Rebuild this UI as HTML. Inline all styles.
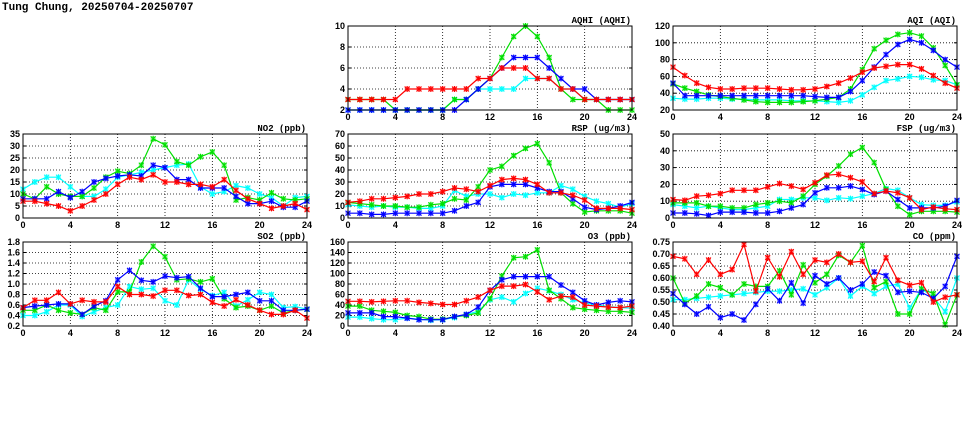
<!DOCTYPE html>
<html><head><meta charset="utf-8"><style>
html,body{margin:0;padding:0;background:#fff;}
svg{display:block;font-family:"Liberation Sans",sans-serif;}
</style></head><body>
<svg id="chart" width="975" height="447" viewBox="0 0 975 447">
<text x="2" y="10" font-size="11" font-weight="bold" font-family="Liberation Mono, monospace">Tung Chung, 20250704-20250707</text>
</svg>
<script>
const hours = [0,1,2,3,4,5,6,7,8,9,10,11,12,13,14,15,16,17,18,19,20,21,22,23,24];
const xTicks = [0,4,8,12,16,20,24];
const seriesColors = ["#00ffff","#00e000","#0000ff","#ff0000"];
const seriesNames = ["cyan","green","blue","red"];

const aqhiGreen=[3,3,3,3,2,2,2,2,2,3,3,4,5,7,9,10,9,7,4,3,3,3,2,2,2];
const aqhiBlue=[2,2,2,2,2,2,2,2,2,2,3,4,5,6,7,7,7,6,5,4,4,3,3,3,3];
const aqhiCyan=[2,2,2,2,2,2,2,2,2,3,3,4,4,4,4,5,5,5,4,4,3,3,3,3,3];
const aqhiRed=[3,3,3,3,3,4,4,4,4,4,4,5,5,6,6,6,5,5,4,4,3,3,3,3,3];
const aqhiTicks=[2,4,6,8,10];

const aqiGreen=[51,46,42,38,36,34,32,30,29,29,29,30,31,33,35,45,68,93,103,110,112,108,94,73,50];
const aqiBlue=[52,37,37,37,37,37,37,37,37,37,37,37,36,35,35,42,55,71,86,98,104,100,91,80,71];
const aqiCyan=[34,33,33,34,34,33,33,32,32,32,31,31,31,30,29,31,38,47,55,57,60,59,56,55,50];
const aqiRed=[71,61,52,47,45,45,46,46,46,45,44,44,45,48,52,58,65,70,72,74,74,69,61,52,46];
const aqiTicks=[20,40,60,80,100,120];

const no2Green=[10,8,13,10,9,9,12.5,17,19.5,18.5,22,33,30.5,23.5,22,25.5,27.5,22,7.5,8.5,7.5,10.5,8,7.5,8];
const no2Blue=[8,8,8,11,8.5,11,15,16.5,17.5,18,17.5,22,21,16,16,12.5,12.5,12.5,9,6,6,7,4.5,4.5,7];
const no2Cyan=[12,15,17,17,13,9,9,12,17,18,19,20,21,22,22.5,13,10,11,13.5,12.5,10,8.5,5,8.5,9];
const no2Red=[7,7,6,5,3,5,7.5,10,14,17,16,18,15,15,14,14,13,16,11.5,8,6,4,5,6,3.5];
const no2Ticks=[0,5,10,15,20,25,30,35];

const rspGreen=[13,12,11,10,10,9,9,11,12,16,15,26,40,43,52,58,62,46,21,12,5,6,6,6,4];
const rspBlue=[4,4,3,3,4,4,4,4,4,6,10,13,26,28,28,28,25,22,22,16,9,7,8,10,13];
const rspCyan=[11,10,9,10,9,9,8,8,10,23,18,20,20,17,20,19,21,21,27,24,18,14,12,9,12];
const rspRed=[13,14,16,16,17,18,20,20,22,25,24,22,27,32,33,32,28,21,21,19,15,8,8,8,7];
const rspTicks=[0,10,20,30,40,50,60,70];

const fspGreen=[9,9,9,7,7,6,6,8,9,10,9,13,20,25,31,38,42,33,17,7,2,4,4,4,3.5];
const fspBlue=[3,3,2.5,1.5,3.5,3.5,3.5,3,3,4,6,8,15,18,18,19,17,14,16,11,6,6,6,7,10.5];
const fspCyan=[8,7,6,7,6,5,5,6,7,11,11,12,12,10.5,12,11.5,13,14.5,17.5,16.5,12,8,7.5,7.5,9.5];
const fspRed=[11,10.5,13,13.5,14.5,16.5,16.5,16.5,18.5,20.5,19,17,21,25.5,26,24,21.5,14.5,16,15,12,5,6.5,5.5,5];
const fspTicks=[0,10,20,30,40,50];

const so2Green=[0.5,0.5,0.6,0.5,0.45,0.42,0.55,0.5,0.85,0.85,1.42,1.72,1.52,1.08,1.1,1.04,1.1,0.72,0.55,0.58,0.5,0.58,0.45,0.5,0.52];
const so2Blue=[0.55,0.58,0.6,0.62,0.62,0.42,0.58,0.68,1.08,1.26,1.07,1.04,1.15,1.12,1.14,0.92,0.76,0.76,0.8,0.84,0.68,0.68,0.5,0.5,0.52];
const so2Cyan=[0.4,0.4,0.47,0.6,0.6,0.38,0.47,0.55,0.6,0.95,0.9,0.92,0.68,0.6,1.08,0.9,0.78,0.84,0.58,0.7,0.84,0.8,0.55,0.57,0.52];
const so2Red=[0.55,0.69,0.69,0.84,0.62,0.69,0.66,0.66,0.95,0.8,0.8,0.77,0.88,0.88,0.78,0.8,0.65,0.58,0.7,0.6,0.5,0.42,0.42,0.5,0.35];
const so2Ticks=[0.2,0.4,0.6,0.8,1.0,1.2,1.4,1.6,1.8];

const o3Green=[38,38,30,28,26,20,18,13,13,18,20,25,52,95,130,132,145,68,52,35,32,30,28,28,26];
const o3Blue=[25,25,25,18,18,15,12,12,12,18,22,36,68,88,94,94,94,94,78,64,48,40,45,48,46];
const o3Cyan=[17,17,14,12,12,15,13,11,12,16,22,28,50,55,46,62,72,67,60,50,44,40,37,35,34];
const o3Red=[47,47,46,47,48,48,45,43,41,41,48,55,68,76,76,79,65,50,57,55,40,38,36,35,38];
const o3Ticks=[0,20,40,60,80,100,120,140,160];

const coGreen=[0.60,0.495,0.525,0.575,0.56,0.53,0.575,0.565,0.565,0.63,0.53,0.655,0.58,0.615,0.695,0.665,0.735,0.56,0.585,0.45,0.45,0.555,0.535,0.405,0.53];
const coBlue=[0.535,0.49,0.45,0.48,0.435,0.45,0.425,0.49,0.555,0.505,0.58,0.495,0.61,0.575,0.60,0.55,0.575,0.625,0.61,0.54,0.545,0.54,0.515,0.565,0.69];
const coCyan=[0.51,0.51,0.515,0.52,0.525,0.53,0.535,0.54,0.545,0.545,0.55,0.555,0.53,0.56,0.60,0.525,0.565,0.535,0.565,0.575,0.475,0.555,0.52,0.46,0.60];
const coRed=[0.69,0.68,0.615,0.675,0.615,0.635,0.74,0.545,0.685,0.605,0.71,0.615,0.675,0.665,0.70,0.665,0.67,0.585,0.685,0.59,0.57,0.58,0.50,0.52,0.53];
const coTicks=[0.40,0.45,0.50,0.55,0.60,0.65,0.70,0.75];

const NS="http://www.w3.org/2000/svg";
const svg=document.getElementById('chart');
function mk(tag,attrs,parent){const e=document.createElementNS(NS,tag);for(const k in attrs)e.setAttribute(k,attrs[k]);(parent||svg).appendChild(e);return e;}

const panels=[
 {key:"aqhi",title:"AQHI (AQHI)",x:348,y:26,series:[aqhiCyan,aqhiGreen,aqhiBlue,aqhiRed],ticks:aqhiTicks,dec:0},
 {key:"aqi",title:"AQI (AQI)",x:673,y:26,series:[aqiCyan,aqiGreen,aqiBlue,aqiRed],ticks:aqiTicks,dec:0},
 {key:"no2",title:"NO2 (ppb)",x:23,y:134,series:[no2Cyan,no2Green,no2Blue,no2Red],ticks:no2Ticks,dec:0},
 {key:"rsp",title:"RSP (ug/m3)",x:348,y:134,series:[rspCyan,rspGreen,rspBlue,rspRed],ticks:rspTicks,dec:0},
 {key:"fsp",title:"FSP (ug/m3)",x:673,y:134,series:[fspCyan,fspGreen,fspBlue,fspRed],ticks:fspTicks,dec:0},
 {key:"so2",title:"SO2 (ppb)",x:23,y:242,series:[so2Cyan,so2Green,so2Blue,so2Red],ticks:so2Ticks,dec:1},
 {key:"o3",title:"O3 (ppb)",x:348,y:242,series:[o3Cyan,o3Green,o3Blue,o3Red],ticks:o3Ticks,dec:0},
 {key:"co",title:"CO (ppm)",x:673,y:242,series:[coCyan,coGreen,coBlue,coRed],ticks:coTicks,dec:2}
];
const W=284,H=84;

panels.forEach(p=>{
 const g=mk('g',{});
 
 
 const ymin=p.ticks[0], ymax=p.ticks[p.ticks.length-1];
 const sx=v=>p.x+(v-0)/24*W;
 const sy=v=>p.y+H-(v-ymin)/(ymax-ymin)*H;
 const bg=mk('rect',{x:p.x,y:p.y,width:W,height:H,fill:'#fff'},g);
 
 
 p.ticks.forEach((t,i)=>{
  const yy=sy(t);
  if(i>0&&i<p.ticks.length-1){
   const gl=mk('line',{x1:p.x,x2:p.x+W,y1:yy,y2:yy,stroke:'#000','stroke-width':0.8,'stroke-dasharray':'1,2'},g);
   
   
  }
  mk('line',{x1:p.x,x2:p.x+3,y1:yy,y2:yy,stroke:'#000'},g);
  mk('line',{x1:p.x+W-3,x2:p.x+W,y1:yy,y2:yy,stroke:'#000'},g);
  const tl=mk('text',{x:p.x-3,y:yy+3,'font-size':9,'font-weight':'bold','text-anchor':'end'},g);
  tl.textContent=t.toFixed(p.dec);
  
  
 });
 xTicks.forEach((t,i)=>{
  const xx=sx(t);
  if(i>0&&i<xTicks.length-1){
   const gl=mk('line',{x1:xx,x2:xx,y1:p.y,y2:p.y+H,stroke:'#000','stroke-width':0.8,'stroke-dasharray':'1,2'},g);
   
   
  }
  const tl=mk('text',{x:xx,y:p.y+H+10,'font-size':9,'font-weight':'bold','text-anchor':'middle'},g);
  tl.textContent=t;
  
  
 });
 p.series.forEach((vals,si)=>{
  const col=seriesColors[si];
  const pts=vals.map((v,i)=>sx(hours[i]).toFixed(1)+','+sy(v).toFixed(1)).join(' ');
  const pl=mk('polyline',{points:pts,fill:'none',stroke:col,'stroke-width':1.2},g);
  
  
  vals.forEach((v,i)=>{
   const cx=sx(hours[i]), cy=sy(v);
   const m=mk('g',{},g);
   
   
   mk('rect',{x:cx-2.5,y:cy-2.5,width:5,height:5,fill:col,opacity:0.45},m);
   mk('path',{d:`M${cx-2.5},${cy-2.5}L${cx+2.5},${cy+2.5}M${cx-2.5},${cy+2.5}L${cx+2.5},${cy-2.5}M${cx},${cy-3}L${cx},${cy+3}`,stroke:col,'stroke-width':1},m);
  });
 });
 const br=mk('rect',{x:p.x,y:p.y,width:W,height:H,fill:'none',stroke:'#000','stroke-width':1},g);
 
 
 const tt=mk('text',{x:p.x+W-1,y:p.y-3,'font-size':9,'font-weight':'bold','text-anchor':'end','font-family':'Liberation Mono, monospace'},g);
 tt.textContent=p.title;
 
 
});
</script>
</body></html>
